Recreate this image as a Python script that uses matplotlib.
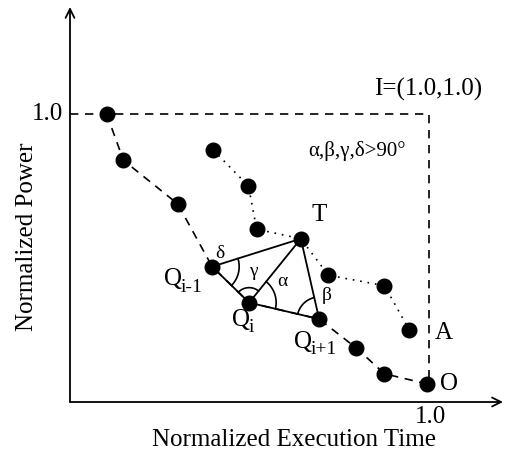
import numpy as np
import matplotlib
matplotlib.use("Agg")
import matplotlib.pyplot as plt

# Pareto-like front (dashed) : normalized execution time / power
front_x = [0.102, 0.149, 0.300, 0.396, 0.499, 0.694, 0.796, 0.876, 0.994]
front_y = [1.000, 0.839, 0.688, 0.470, 0.345, 0.288, 0.189, 0.098, 0.063]

# second curve (dotted), passes through T
other_x = [0.399, 0.497, 0.520, 0.643, 0.720, 0.876, 0.945]
other_y = [0.875, 0.750, 0.600, 0.567, 0.440, 0.404, 0.250]

# indices of Q(i-1), Q(i), Q(i+1) in front and T in other
q_idx = [3, 4, 5]
t_idx = 3
q_subs = ["i-1", "i", "i+1"]

SX, SY = 359.0, 288.0  # pixels per data unit
serif = ["Liberation Serif", "DejaVu Serif"]

fig = plt.figure(figsize=(5.06, 4.58), dpi=100)
ax = fig.add_axes([0, 0, 1, 1])
ax.set_xlim(-70 / SX, 436 / SX)
ax.set_ylim(-56 / SY, 402 / SY)
ax.axis("off")

# axes with arrows
ax.annotate("", xy=(433 / SX, 0), xytext=(0, 0),
            arrowprops=dict(arrowstyle="->", lw=1.3, color="black",
                            mutation_scale=16, shrinkA=0, shrinkB=0))
ax.annotate("", xy=(0, 395 / SY), xytext=(0, 0),
            arrowprops=dict(arrowstyle="->", lw=1.3, color="black",
                            mutation_scale=16, shrinkA=0, shrinkB=0))

# dashed frame to I=(1,1)
ax.plot([0, 1.0, 1.0], [1.0, 1.0, front_y[-1]], color="black", lw=1.2,
        dashes=(5, 4))

# the two curves
ax.plot(front_x, front_y, color="black", lw=1.2, dashes=(5, 4))
ax.plot(other_x, other_y, color="black", lw=1.2, dashes=(1, 3.5))
ax.plot(front_x, front_y, "o", color="black", markersize=10.5)
ax.plot(other_x, other_y, "o", color="black", markersize=10.5)

# solid triangle lines
qm, qi, qp = [(front_x[k], front_y[k]) for k in q_idx]
t = (other_x[t_idx], other_y[t_idx])
for a, b in [(qm, t), (qm, qi), (qi, t), (qi, qp), (qp, t)]:
    ax.plot([a[0], b[0]], [a[1], b[1]], color="black", lw=1.3)


def ang(p, q):
    return np.degrees(np.arctan2((q[1] - p[1]) * SY, (q[0] - p[0]) * SX))


def arc(c, a1, a2, r):
    th = np.radians(np.linspace(a1, a2, 60))
    ax.plot(c[0] + r * np.cos(th) / SX, c[1] + r * np.sin(th) / SY,
            color="black", lw=1.2)


arc(qm, ang(qm, qi), ang(qm, t), 27)           # delta
arc(qi, ang(qi, t), ang(qi, qm), 15)           # gamma
arc(qi, ang(qi, qp), ang(qi, t), 27)           # alpha
arc(qp, ang(qp, t), ang(qp, qi), 22)           # beta


def px(x, y):
    return ((x - 70) / SX, (402 - y) / SY)


fs = 18
ax.text(*px(63, 114), "1.0", ha="right", va="center", fontsize=fs, family=serif)
ax.text(*px(430, 417), "1.0", ha="center", va="center", fontsize=fs, family=serif)
ax.text(*px(27, 237), "Normalized Power", rotation=90, ha="center",
        va="center", fontsize=18, family=serif)
ax.text(*px(294, 440), "Normalized Execution Time", ha="center",
        va="center", fontsize=18, family=serif)
ax.text(*px(428, 89), "I=(1.0,1.0)", ha="center", va="center", fontsize=fs,
        family=serif)
ax.text(*px(357, 151), "α,β,γ,δ>90°", ha="center", va="center", fontsize=15,
        family=serif)
ax.text(*px(319, 215), "T", ha="center", va="center", fontsize=fs, family=serif)

# Q labels: letter plus a lowered subscript (left x, centre y of the "Q")
for (lx, ly), sub in zip([(164, 279), (232, 320), (294, 342)], q_subs):
    ax.text(*px(lx, ly), "Q", ha="left", va="center", fontsize=fs, family=serif)
    ax.text(*px(lx + 17, ly + 8), sub, ha="left", va="center", fontsize=14,
            family=serif)

ax.text(*px(444, 333), "A", ha="center", va="center", fontsize=fs, family=serif)
ax.text(*px(449, 384), "O", ha="center", va="center", fontsize=fs, family=serif)
ax.text(*px(220, 254), "δ", ha="center", va="center", fontsize=14, family=serif)
ax.text(*px(253, 272), "γ", ha="center", va="center", fontsize=14, family=serif)
ax.text(*px(282, 282), "α", ha="center", va="center", fontsize=14, family=serif)
ax.text(*px(327, 296), "β", ha="center", va="center", fontsize=14, family=serif)

fig.savefig("out.png", dpi=100)
